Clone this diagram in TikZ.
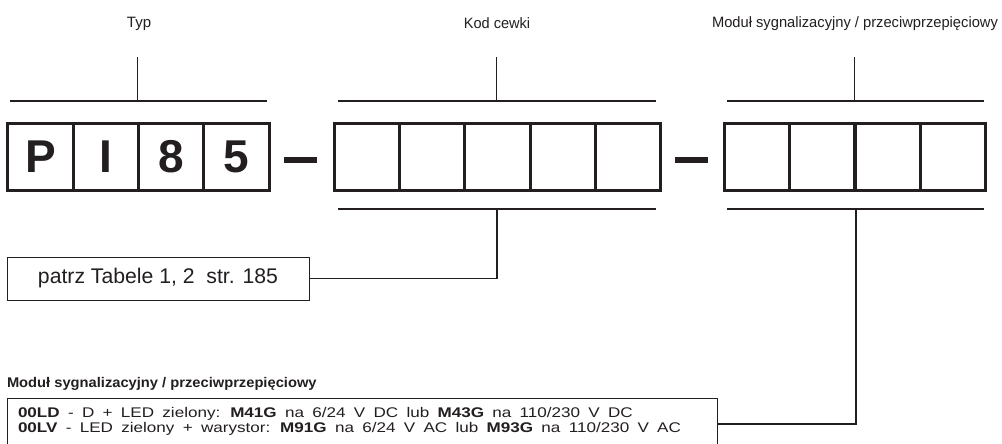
\documentclass[tikz,border=0pt]{standalone}
\usepackage{fontspec}
\setmainfont{Liberation Sans}
\definecolor{ink}{RGB}{35,31,32}
\newcommand{\fs}[1]{\fontsize{#1}{#1}\selectfont}
\newcommand{\wideline}[1]{\scalebox{1.22}[1]{\spaceskip=6.8pt\relax #1}}
\begin{document}
\begin{tikzpicture}[x=1pt,y=-1pt,
  every node/.style={inner sep=0pt,outer sep=0pt,text=ink},
  lbl/.style={font=\fs{15}},
  cell/.style={draw=ink,line width=3pt,minimum width=65.3pt,minimum height=67pt,font=\fs{46}\bfseries},
  bracket/.style={draw=ink,line width=2pt},
  tick/.style={draw=ink,line width=1.5pt},
  conn/.style={draw=ink,line width=1.5pt},
  dashbar/.style={fill=ink,minimum width=33pt,minimum height=6pt},
  thinbox/.style={draw=ink,line width=1pt}
]
\clip (0,0) rectangle (1002,444);
\fill[white] (0,0) rectangle (1002,444);
% labels
\node[lbl] (typ) at (139,23.5) {Typ};
\node[lbl] (kod) at (497,23.5) {\scalebox{0.97}[1]{Kod cewki}};
\node[lbl] (mod) at (855,23.5) {\scalebox{0.98}[1]{Moduł sygnalizacyjny / przeciwprzepięciowy}};
% cells
\foreach \t [count=\i from 0] in {P,I,8,5}
  \node[cell] (a\i) at ({8+65.25*(\i+0.5)},156.5) {\t};
\foreach \i in {0,...,4}
  \node[cell] (b\i) at ({334+65.4*(\i+0.5)},156.5) {};
\foreach \i in {0,...,3}
  \node[cell] (c\i) at ({724+65.5*(\i+0.5)},156.5) {};
% dashes
\node[dashbar] (d1) at (300.5,160) {};
\node[dashbar] (d2) at (691,160) {};
% top brackets
\coordinate (taL) at (10,101); \coordinate (taR) at (267,101);
\coordinate (taT) at (137.5,57); \coordinate (taB) at (137.5,101);
\draw[bracket] (taL) -- (taR);
\draw[tick] (taT) -- (taB);
\coordinate (tbL) at (338,101); \coordinate (tbR) at (656,101);
\coordinate (tbT) at (496.5,57); \coordinate (tbB) at (496.5,101);
\draw[bracket] (tbL) -- (tbR);
\draw[tick] (tbT) -- (tbB);
\coordinate (tcL) at (727,101); \coordinate (tcR) at (984,101);
\coordinate (tcT) at (854.5,57); \coordinate (tcB) at (854.5,101);
\draw[bracket] (tcL) -- (tcR);
\draw[tick] (tcT) -- (tcB);
% bottom brackets
\coordinate (bbL) at (338,209); \coordinate (bbR) at (656,209);
\coordinate (bbM) at (497,209);
\draw[bracket] (bbL) -- (bbR);
\coordinate (bcL) at (727,209); \coordinate (bcR) at (984,209);
\coordinate (bcM) at (856,209);
\draw[bracket] (bcL) -- (bcR);
% patrz box
\node[thinbox,minimum width=302pt,minimum height=43pt,font=\fs{21.2}] (patrz) at (158,278.5) {patrz Tabele 1, 2\ \ str. 185};
\draw[conn] (bbM) |- (patrz.east);
% module title
\node[font=\fs{14}\bfseries,anchor=west] (mtitle) at (7,383.5) {\scalebox{1.05}[1]{Moduł sygnalizacyjny / przeciwprzepięciowy}};
% module box
\node[thinbox,minimum width=710pt,minimum height=52pt] (mbox) at (362,424) {};
\draw[conn] (bcM) |- (mbox.east);
\node[font=\fontsize{14}{14.5}\selectfont,anchor=west,align=left] (mtext) at (18,421.5) {%
\wideline{\textbf{00LD} - D + LED zielony: \textbf{M41G} na 6/24 V DC lub \textbf{M43G} na 110/230 V DC}\\
\wideline{\textbf{00LV} - LED zielony + warystor: \textbf{M91G} na 6/24 V AC lub \textbf{M93G} na 110/230 V AC}};
\end{tikzpicture}
\end{document}
